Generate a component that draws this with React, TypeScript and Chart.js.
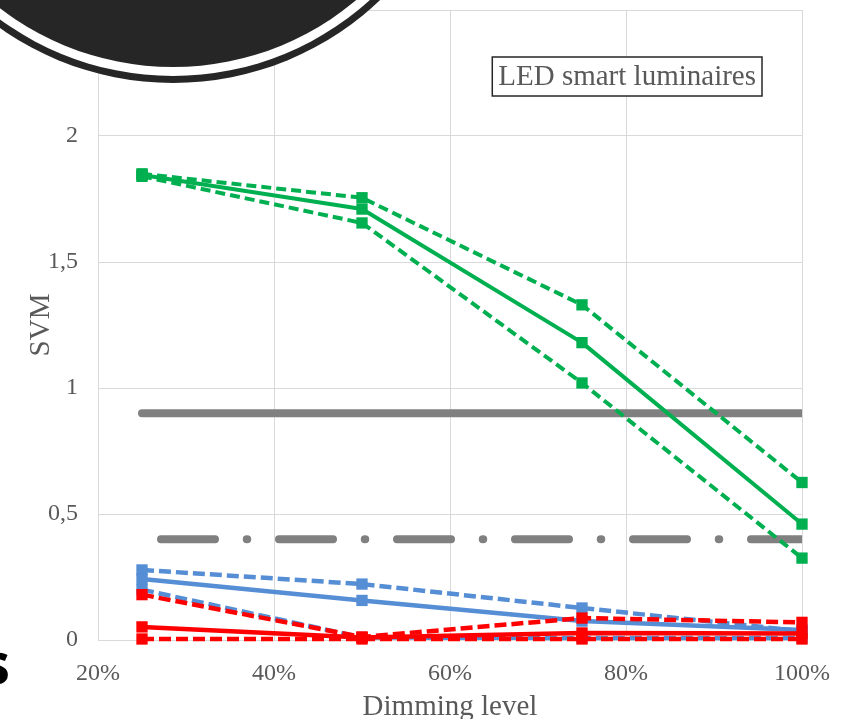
import React, { useEffect, useRef } from 'react';
import { Chart, registerables } from 'chart.js';

Chart.register(...registerables);

// Dimming levels (percent) at which SVM was measured
const dimmingLevels = [25, 50, 75, 100];

// Group 1 (green): mean with upper / lower bounds
const greenMean = [1.845, 1.71, 1.18, 0.46];
const greenUpper = [1.85, 1.755, 1.33, 0.625];
const greenLower = [1.84, 1.655, 1.02, 0.325];

// Group 2 (blue)
const blueMean = [0.242, 0.157, 0.075, 0.04];
const blueUpper = [0.278, 0.222, 0.127, 0.035];
const blueLower = [0.2, 0.01, 0.008, 0.008];

// Group 3 (red)
const redMean = [0.052, 0.01, 0.028, 0.026];
const redUpper = [0.18, 0.012, 0.087, 0.07];
const redLower = [0.004, 0.004, 0.004, 0.004];

// SVM limit values
const limitA = [0.9, 0.9, 0.9, 0.9];
const limitB = [0.4, 0.4, 0.4, 0.4];

const xTitle = 'Dimming level';
const yTitle = 'SVM';
const boxText = 'LED smart luminaires';

const GREEN = '#00B050';
const BLUE = '#558ED5';
const RED = '#FF0000';
const GRAY = '#808080';
const TEXT = '#595959';
const GRID = '#d9d9d9';
const SERIF = '"Liberation Serif", "Times New Roman", serif';

const toPoints = (values: number[]) => dimmingLevels.map((x, i) => ({ x, y: values[i] }));

const seriesLine = (label: string, values: number[], color: string, dashed: boolean, width: number, dash: number[]) => ({
  label,
  data: toPoints(values),
  borderColor: color,
  backgroundColor: color,
  borderWidth: width,
  borderDash: dashed ? dash : [],
  borderCapStyle: 'butt' as const,
  borderJoinStyle: 'round' as const,
  pointStyle: 'rect' as const,
  pointRadius: 8,
  pointBorderWidth: 0,
  pointBackgroundColor: color,
  tension: 0,
  clip: false as const,
});

const labelBoxPlugin = {
  id: 'labelBox',
  afterDraw(chart: any) {
    const { ctx, chartArea } = chart;
    ctx.save();
    ctx.font = `29px ${SERIF}`;
    const w = ctx.measureText(boxText).width;
    const padX = 6;
    const h = 39;
    const right = chartArea.right - 40;
    const left = right - w - 2 * padX;
    const top = chartArea.top + 47;
    ctx.fillStyle = '#ffffff';
    ctx.fillRect(left, top, w + 2 * padX, h);
    ctx.strokeStyle = '#262626';
    ctx.lineWidth = 1.5;
    ctx.strokeRect(left, top, w + 2 * padX, h);
    ctx.fillStyle = TEXT;
    ctx.textAlign = 'left';
    ctx.textBaseline = 'middle';
    ctx.fillText(boxText, left + padX, top + h / 2 + 0.5);
    ctx.restore();
  },
};

function SvmChart() {
  const canvasRef = useRef<HTMLCanvasElement | null>(null);

  useEffect(() => {
    const canvas = canvasRef.current;
    if (!canvas) return;
    const greenDash = [10, 5];
    const bdDash = [12, 5];
    const chart = new Chart(canvas, {
      type: 'line',
      data: {
        datasets: [
          seriesLine('Green mean', greenMean, GREEN, false, 4, greenDash),
          seriesLine('Green upper', greenUpper, GREEN, true, 4, greenDash),
          seriesLine('Green lower', greenLower, GREEN, true, 4, greenDash),
          seriesLine('Red mean', redMean, RED, false, 4.5, bdDash),
          seriesLine('Red upper', redUpper, RED, true, 4.5, bdDash),
          seriesLine('Red lower', redLower, RED, true, 4.5, bdDash),
          seriesLine('Blue mean', blueMean, BLUE, false, 4.5, bdDash),
          seriesLine('Blue upper', blueUpper, BLUE, true, 4.5, bdDash),
          seriesLine('Blue lower', blueLower, BLUE, true, 4.5, bdDash),
          {
            label: 'Limit 0.9',
            data: toPoints(limitA),
            borderColor: GRAY,
            borderWidth: 8,
            borderCapStyle: 'round',
            pointRadius: 0,
            clip: { left: 20, top: 0, right: 0, bottom: 0 },
          },
          {
            label: 'Limit 0.4',
            data: toPoints(limitB),
            borderColor: GRAY,
            borderWidth: 8,
            borderCapStyle: 'round',
            borderDash: [54, 31.75, 0.5, 31.75],
            borderDashOffset: 99,
            pointRadius: 0,
            clip: { left: 20, top: 0, right: 0, bottom: 0 },
          },
        ] as any,
      },
      options: {
        animation: false,
        responsive: false,
        maintainAspectRatio: false,
        devicePixelRatio: 1,
        layout: { padding: { top: 10, right: 49, left: 0, bottom: 0 } },
        plugins: {
          legend: { display: false },
          tooltip: { enabled: false },
          title: { display: false },
        },
        scales: {
          x: {
            type: 'linear',
            min: 20,
            max: 100,
            ticks: {
              stepSize: 20,
              color: TEXT,
              font: { family: SERIF, size: 24 },
              padding: 19,
              maxRotation: 0,
              autoSkip: false,
              callback: (v: any) => `${v}%`,
            },
            grid: { color: GRID, lineWidth: 1, drawTicks: false },
            border: { color: GRID },
            title: {
              display: true,
              text: xTitle,
              color: TEXT,
              font: { family: SERIF, size: 29, lineHeight: 1 },
              padding: { top: 0, bottom: -2.5 },
            },
            afterFit: (s: any) => {
              s.height = 79;
              s.paddingLeft = 0;
              s.paddingRight = 0;
            },
          },
          y: {
            type: 'linear',
            min: 0,
            max: 2.5,
            ticks: {
              stepSize: 0.5,
              color: TEXT,
              font: { family: SERIF, size: 24 },
              padding: 20,
              callback: (v: any) => String(v).replace('.', ','),
            },
            grid: { color: GRID, lineWidth: 1, drawTicks: false },
            border: { color: GRID },
            title: {
              display: true,
              text: yTitle,
              color: TEXT,
              font: { family: SERIF, size: 29, lineHeight: 1 },
              padding: { top: 27, bottom: 0 },
            },
            afterFit: (s: any) => {
              s.width = 98;
              s.paddingTop = 0;
              s.paddingBottom = 0;
            },
          },
        },
      } as any,
      plugins: [labelBoxPlugin],
    });
    return () => chart.destroy();
  }, []);

  return (
    <canvas
      ref={canvasRef}
      width={851}
      height={719}
      style={{ position: 'absolute', left: 0, top: 0, width: 851, height: 719 }}
    />
  );
}

export default function App() {
  return (
    <div
      style={{
        position: 'fixed',
        left: 0,
        top: 0,
        width: 851,
        height: 719,
        overflow: 'hidden',
        background: '#ffffff',
      }}
    >
      <SvmChart />
      {/* slide badge overlapping the top-left corner */}
      <div
        style={{
          position: 'absolute',
          left: -111,
          top: -501,
          width: 568,
          height: 568,
          borderRadius: '50%',
          background: '#262626',
          boxShadow: '0 0 0 9px #ffffff, 0 0 0 16px #262626',
        }}
      />
      <span
        style={{
          position: 'absolute',
          right: 841,
          top: 633,
          fontFamily: '"Open Sans", sans-serif',
          fontWeight: 700,
          fontSize: 58,
          lineHeight: 1,
          color: '#000000',
          whiteSpace: 'nowrap',
        }}
      >
        s
      </span>
    </div>
  );
}
